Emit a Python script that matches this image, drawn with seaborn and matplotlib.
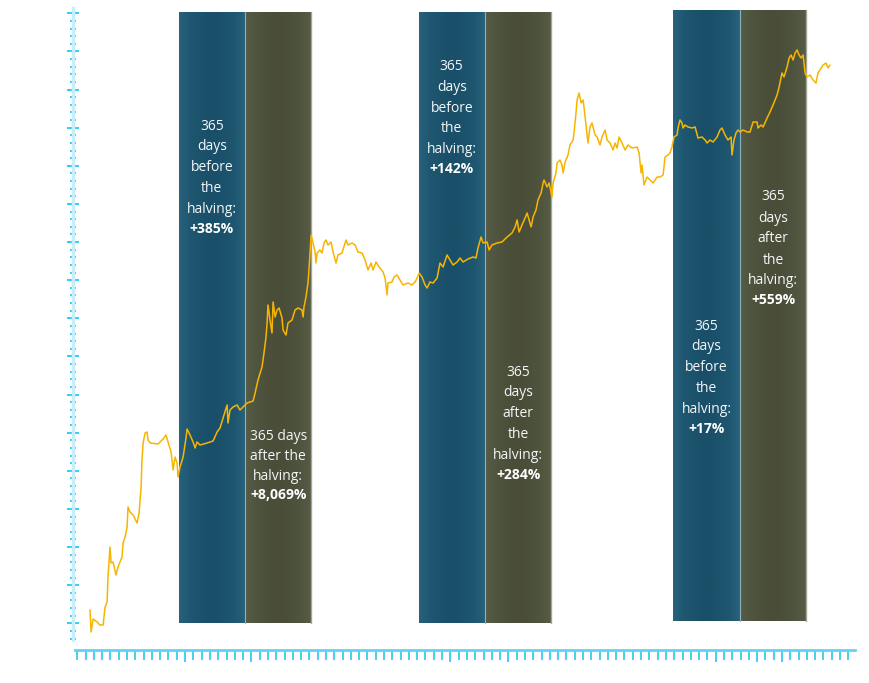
import numpy as np
import pandas as pd
import matplotlib
matplotlib.use("Agg")
import matplotlib.pyplot as plt
import matplotlib.dates as mdates
from matplotlib.colors import LinearSegmentedColormap
import seaborn as sns

# Price path: days after the first point, log10 price level
start_date = pd.Timestamp("2010-07-29")

days = [
    0, 6, 17, 39, 55, 72, 83, 94, 99, 110, 116, 127, 143, 154, 176, 182, 193, 204, 209, 220,
    237, 259, 270, 281, 286, 292, 303, 314, 319, 330, 374, 402, 418, 429, 446, 457, 468, 479, 484, 495,
    512, 528, 534, 550, 567, 578, 589, 605, 644, 677, 699, 715, 732, 754, 759, 770, 787, 809, 825, 842,
    864, 897,
    # 2013 - 2015
    908, 924, 946, 957, 968, 974, 979, 990, 1001, 1007, 1018, 1029, 1040, 1056, 1062, 1078, 1089, 1111, 1128, 1144,
    1166, 1172, 1177, 1188, 1199, 1205, 1210, 1216, 1227, 1238, 1243, 1249, 1265, 1276, 1287, 1298, 1309, 1326, 1337, 1353,
    1364, 1386, 1408, 1419, 1441, 1458, 1474, 1496, 1513, 1529, 1546, 1557, 1573, 1590, 1612, 1623, 1634, 1639, 1661, 1672,
    1689, 1705, 1722, 1749, 1771, 1788, 1799, 1810,
    # 2015 - 2018
    1826, 1843, 1854, 1870, 1887, 1909, 1925, 1942, 1964, 1980, 1997, 2019, 2035, 2052, 2079, 2107, 2123, 2134, 2151, 2162,
    2184, 2195, 2211, 2239, 2266, 2294, 2321, 2338, 2349, 2360, 2376, 2393, 2404, 2415, 2426, 2437, 2453, 2464, 2481, 2492,
    2497, 2514, 2525, 2541, 2547, 2563, 2569, 2585, 2596, 2602, 2613, 2629, 2640, 2657, 2662, 2673, 2679, 2690, 2701, 2712,
    2717, 2728, 2739, 2750, 2761, 2778, 2789, 2805,
    # 2018 - 2021
    2816, 2833, 2844, 2860, 2877, 2888, 2899, 2910, 2926, 2943, 2959, 2981, 3009, 3020, 3031, 3036, 3047, 3064, 3080, 3097,
    3119, 3135, 3152, 3163, 3179, 3190, 3201, 3212, 3229, 3234, 3245, 3256, 3262, 3273, 3289, 3311, 3328, 3344, 3366, 3383,
    3394, 3410, 3427, 3449, 3465, 3476, 3493, 3509, 3526, 3531, 3542, 3553, 3564, 3575, 3592, 3614, 3630, 3647, 3669, 3674,
    3691, 3702, 3724, 3740, 3757, 3768, 3779, 3790, 3806, 3817, 3834, 3845, 3856, 3867, 3878, 3889, 3900, 3911, 3922, 3933,
    3944, 3960, 3977, 3993, 4004, 4021, 4032, 4048, 4059, 4070,
]

log_price = [
    -0.80, -1.02, -0.89, -0.92, -0.95, -0.95, -0.77, -0.72, -0.47, -0.17, -0.33, -0.32, -0.45, -0.37, -0.27, -0.13, -0.07, 0.03, 0.23, 0.18,
    0.15, 0.07, 0.17, 0.43, 0.70, 0.87, 0.97, 0.98, 0.90, 0.87, 0.86, 0.91, 0.95, 0.88, 0.78, 0.60, 0.73, 0.67, 0.53, 0.63,
    0.73, 0.92, 1.01, 0.95, 0.88, 0.82, 0.88, 0.85, 0.87, 0.89, 0.98, 1.02, 1.12, 1.25, 1.07, 1.20, 1.23, 1.25, 1.20, 1.23,
    1.27, 1.29,
    1.37, 1.50, 1.63, 1.77, 1.93, 2.07, 2.25, 2.10, 1.97, 2.28, 2.13, 2.20, 2.22, 2.12, 2.00, 1.95, 2.07, 2.10, 2.20, 2.22,
    2.20, 2.13, 2.23, 2.33, 2.47, 2.62, 2.77, 2.95, 2.87, 2.78, 2.67, 2.77, 2.80, 2.77, 2.87, 2.90, 2.85, 2.88, 2.78, 2.67,
    2.75, 2.77, 2.90, 2.85, 2.87, 2.85, 2.78, 2.77, 2.70, 2.60, 2.67, 2.60, 2.68, 2.63, 2.58, 2.52, 2.35, 2.47, 2.48, 2.53,
    2.55, 2.50, 2.45, 2.47, 2.45, 2.48, 2.52, 2.57,
    2.53, 2.45, 2.42, 2.48, 2.47, 2.52, 2.67, 2.63, 2.75, 2.70, 2.65, 2.68, 2.72, 2.68, 2.71, 2.73, 2.72, 2.82, 2.93, 2.87,
    2.88, 2.80, 2.85, 2.87, 2.88, 2.93, 2.97, 3.03, 3.10, 2.98, 3.05, 3.12, 3.17, 3.10, 3.03, 3.13, 3.20, 3.30, 3.37, 3.47,
    3.50, 3.43, 3.47, 3.33, 3.47, 3.57, 3.67, 3.70, 3.65, 3.57, 3.68, 3.75, 3.85, 3.90, 3.97, 4.17, 4.30, 4.37, 4.27, 4.30,
    4.23, 4.05, 3.87, 4.03, 4.07, 3.95, 3.93, 3.85,
    3.93, 4.00, 3.90, 3.87, 3.80, 3.87, 3.82, 3.93, 3.87, 3.80, 3.85, 3.82, 3.83, 3.77, 3.57, 3.65, 3.45, 3.53, 3.50, 3.47,
    3.53, 3.53, 3.55, 3.73, 3.75, 3.77, 3.83, 3.93, 3.95, 4.02, 4.10, 4.07, 4.02, 4.05, 4.03, 4.02, 4.03, 3.92, 3.93, 3.90,
    3.87, 3.90, 3.88, 3.93, 4.00, 4.02, 3.95, 3.90, 3.93, 3.75, 3.90, 3.97, 4.00, 3.98, 4.00, 3.98, 3.98, 4.08, 4.08, 4.02,
    4.05, 4.03, 4.12, 4.18, 4.25, 4.30, 4.35, 4.43, 4.57, 4.53, 4.63, 4.72, 4.75, 4.70, 4.77, 4.80, 4.75, 4.72, 4.75, 4.57,
    4.53, 4.55, 4.50, 4.47, 4.57, 4.62, 4.65, 4.67, 4.62, 4.65,
]

halvings = ["2012-11-28", "2016-07-09", "2020-05-11"]
window_days = 365
before_pct = ["+385%", "+142%", "+17%"]
after_pct = ["+8,069%", "+284%", "+559%"]
before_lines = ["365", "days", "before", "the", "halving:"]
after_lines = [["365 days", "after the", "halving:"],
               ["365", "days", "after", "the", "halving:"],
               ["365", "days", "after", "the", "halving:"]]

# label placement: (top line level, line step px, step to the bold line px)
before_place = [(4.04, 20.8, 20.0), (4.63, 20.6, 19.5), (2.04, 20.8, 20.0)]
after_place = [(0.93, 19.6, 18.5), (1.58, 20.8, 20.0), (3.33, 21.0, 19.0)]
band_y = [(-0.93, 5.18), (-0.93, 5.18), (-0.91, 5.20)]

LINE = "#f7b500"
TICK = "#14c2f0"
TEXT = "#f3f6f8"
blue_cmap = LinearSegmentedColormap.from_list("blue", ["#1a4f69", "#1e5670", "#28627c"])
olive_cmap = LinearSegmentedColormap.from_list("olive", ["#4a4e39", "#4f543f", "#575c46"])

sns.set_style("white")
plt.rcParams["font.family"] = ["Open Sans", "DejaVu Sans"]

df = pd.DataFrame({"date": start_date + pd.to_timedelta(days, unit="D"), "level": log_price})

fig = plt.figure(figsize=(8.7, 6.83), dpi=100)
ax = fig.add_axes([73 / 870, 33 / 683, 782 / 870, 642 / 683])

t0 = mdates.date2num(start_date)


def shade(x0, x1, cmap, y0, y1):
    grad = np.abs(np.linspace(-1, 1, 80))[None, :] ** 1.5
    ax.imshow(grad, cmap=cmap, vmin=0, vmax=1, extent=(x0, x1, y0, y1),
              aspect="auto", interpolation="bilinear", zorder=1)


def label(x, y, lines, pct, step_px, pct_px):
    step = step_px * 0.72
    for i, s in enumerate(lines):
        ax.annotate(s, (x, y), xytext=(0, -i * step), textcoords="offset points",
                    ha="center", va="center", color=TEXT, fontsize=10, zorder=6)
    off = (len(lines) - 1) * step + pct_px * 0.72
    ax.annotate(pct, (x, y), xytext=(0, -off), textcoords="offset points",
                ha="center", va="center", color="white", fontsize=10,
                fontweight="bold", zorder=6)


for i, h in enumerate(halvings):
    hx = mdates.date2num(pd.Timestamp(h))
    y0, y1 = band_y[i]
    shade(hx - window_days, hx, blue_cmap, y0, y1)
    shade(hx, hx + window_days, olive_cmap, y0, y1)
    ax.plot([hx, hx], [y0, y1], color="#8db3c0", lw=0.8, zorder=2)
    ax.plot([hx + window_days] * 2, [y0, y1], color="#a3a594", lw=1.0, zorder=2)
    ty, st, ps = before_place[i]
    label(hx - window_days / 2, ty, before_lines, before_pct[i], st, ps)
    ty, st, ps = after_place[i]
    label(hx + window_days / 2, ty, after_lines[i], after_pct[i], st, ps)

sns.lineplot(data=df, x="date", y="level", ax=ax, color=LINE, lw=1.1, zorder=4)

ax.set_xlim(t0 - 93.5, t0 + 4207.5)
ax.set_ylim(-1.20, 5.22)

# axis styling: bare cyan tick rulers, no labels
for side in ["top", "right"]:
    ax.spines[side].set_visible(False)
ax.spines["left"].set_color("#c6effb")
ax.spines["left"].set_linewidth(2.5)
ax.spines["left"].set_bounds(-1.10, 5.22)
ax.spines["bottom"].set_color("#62d3f5")
ax.spines["bottom"].set_linewidth(2)
ax.spines["bottom"].set_bounds(t0 - 82.5, t0 + 4207.5)

y_all = -0.933 + 0.07625 * np.arange(-2, 81)
ax.set_yticks(y_all[2::5])
ax.set_yticks(y_all, minor=True)

x_all = t0 - 70 + 45.6 * np.arange(94)
major_idx = [13, 21, 45, 52, 77, 82, 85]
ax.set_xticks(x_all[major_idx])
ax.set_xticks(x_all, minor=True)

ax.tick_params(axis="y", which="both", left=True, labelleft=False, color=TICK, width=1.2,
               direction="inout")
ax.tick_params(axis="y", which="major", length=8.9)
ax.tick_params(axis="y", which="minor", length=5)
ax.tick_params(axis="x", which="both", bottom=True, labelbottom=False, color=TICK, width=1.1,
               direction="out")
ax.tick_params(axis="x", which="major", length=8.6)
ax.tick_params(axis="x", which="minor", length=7.2)
ax.set_xlabel("")
ax.set_ylabel("")
ax.grid(False)

fig.savefig("out.png", dpi=100)
